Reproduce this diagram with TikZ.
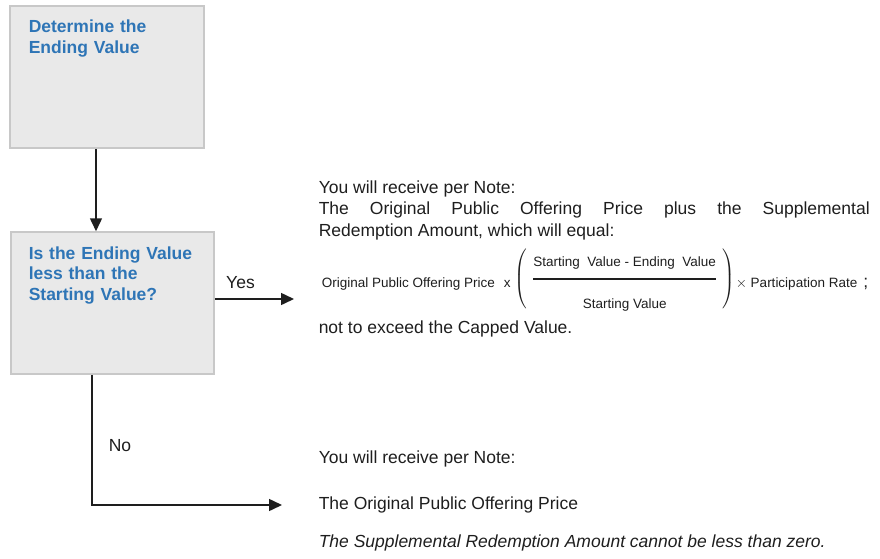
\documentclass[tikz,border=0pt]{standalone}
\usepackage{amsmath}
\usepackage{fontspec}
\setmainfont{Liberation Sans}
\usetikzlibrary{arrows.meta}
\usepackage{color}
\definecolor{boxgray}{RGB}{233,233,233}
\definecolor{boxline}{RGB}{200,200,200}
\definecolor{askblue}{RGB}{46,117,182}
\definecolor{inkgray}{RGB}{30,30,30}

\begin{document}
\begin{tikzpicture}[x=1pt,y=-1pt,->,>={Triangle[length=13pt,width=12pt]},
  line width=1.5pt,draw=inkgray,
  step box/.style={rectangle,draw=boxline,fill=boxgray,line width=1.5pt,inner sep=0},
  box text/.style={anchor=base west,inner sep=0,text width=175pt,align=left,text=askblue,
    font=\fontsize{17.5}{20.5}\selectfont\bfseries},
  body text/.style={anchor=base west,inner sep=0,text=inkgray,
    font=\fontsize{17.5}{21.5}\selectfont}]

  \useasboundingbox (0,0) rectangle (880,559);

  \node[step box,minimum width=194pt,minimum height=142pt] (ending) at (107,77) {};
  \node[step box,minimum width=203pt,minimum height=142pt] (ask) at (112.5,303) {};
  \node[box text] (endingtext) at (28,33) {Determine the\\Ending Value};
  \node[box text] (asktext) at (28,259) {Is the Ending Value\\less than the\\Starting Value?};

  \coordinate (downx) at (96,0);
  \coordinate (nox) at (92,0);
  \coordinate (yestip) at (294,299);
  \coordinate (notip) at (282,505);

  \node[body text,text width=551pt,align=justify] (yesinfo) at (318,193)
    {You will receive per Note:\\
     The Original Public Offering Price plus the Supplemental\linebreak
     Redemption Amount, which will equal:};
  \node[body text,font=\fontsize{13.5}{16}\selectfont] (formula) at (321,287)
    {Original Public Offering Price\hspace{9pt}x\hspace{4pt}\raisebox{4.5pt}{$\left(\hspace{5pt}
     \genfrac{}{}{1.3pt}{0}{\text{Starting\ \ Value - Ending\ \ Value}\rule[-8pt]{0pt}{8pt}}
     {\rule{0pt}{25pt}\text{Starting Value}}\hspace{5pt}\right)$}\hspace{1pt}$\times$
     Participation Rate\hspace{6pt}{\fontsize{17.5}{21}\selectfont;}};
  \node[body text] (cap) at (318,333) {not to exceed the Capped Value.};

  \node[body text] (noinfo) at (318,463) {You will receive per Note:};
  \node[body text] (price) at (318,509) {The Original Public Offering Price};
  \node[body text,font=\fontsize{17.5}{21.5}\selectfont\itshape] (zero) at (318,547)
    {The Supplemental Redemption Amount cannot be less than zero.};

  \draw (ending.south -| downx) -- (ask.north -| downx);
  \draw (ask.east |- yestip) -- (yestip)
    node[body text,anchor=base,pos=0.325,yshift=11pt] {Yes};
  \draw (ask.south -| nox) |- (notip)
    node[body text,pos=0.25,xshift=16pt,yshift=-11.5pt] {No};
\end{tikzpicture}
\end{document}
